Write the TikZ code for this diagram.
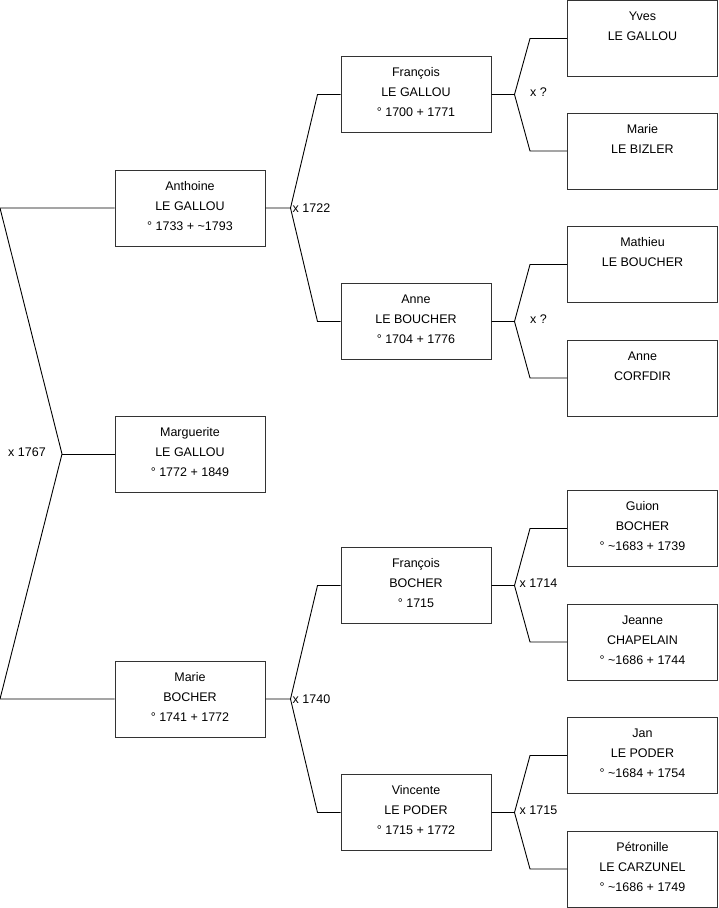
\documentclass[tikz,border=0pt]{standalone}
\usepackage{fontspec}
\setmainfont{Liberation Sans}
\usetikzlibrary{positioning, calc}

\newcommand{\pers}[3]{\strut#1\\\strut#2\\\strut\rule[-10pt]{0pt}{10pt}#3}

\begin{document}
\begin{tikzpicture}[x=1pt, y=-1pt,
  per/.style={rectangle, draw=black!80, line width=1pt,
    minimum width=150pt, minimum height=76pt, inner sep=0pt,
    align=center, font=\fontsize{12.5}{20}\selectfont},
  mar/.style={font=\fontsize{12.5}{14}\selectfont, inner sep=0pt},
  lnk/.style={draw=black, line width=0.9pt}
]
\useasboundingbox (0,0) rectangle (719,908);

%% ── Generation 1 ─────────────────────────────────────────────────────
\node[per] (anth) at (190, 208) {\pers{Anthoine}{LE GALLOU}{° 1733 + \textasciitilde1793}};
\node[per] (marg) at (190, 454) {\pers{Marguerite}{LE GALLOU}{° 1772 + 1849}};
\node[per] (mari) at (190, 699) {\pers{Marie}{BOCHER}{° 1741 + 1772}};

%% ── Generation 2 ─────────────────────────────────────────────────────
\node[per] (fglo) at (416, 94.5)  {\pers{François}{LE GALLOU}{° 1700 + 1771}};
\node[per] (abou) at (416, 321.5) {\pers{Anne}{LE BOUCHER}{° 1704 + 1776}};
\node[per] (fboc) at (416, 585.5) {\pers{François}{BOCHER}{° 1715}};
\node[per] (vpod) at (416, 812.5) {\pers{Vincente}{LE PODER}{° 1715 + 1772}};

%% ── Generation 3 ─────────────────────────────────────────────────────
\node[per] (yglo) at (642.5, 38.5)  {\pers{Yves}{LE GALLOU}{}};
\node[per] (mbiz) at (642.5, 151)   {\pers{Marie}{LE BIZLER}{}};
\node[per] (mbou) at (642.5, 264.5) {\pers{Mathieu}{LE BOUCHER}{}};
\node[per] (acor) at (642.5, 378)   {\pers{Anne}{CORFDIR}{}};
\node[per] (gboc) at (642.5, 528.5) {\pers{Guion}{BOCHER}{° \textasciitilde1683 + 1739}};
\node[per] (jcha) at (642.5, 642)   {\pers{Jeanne}{CHAPELAIN}{° \textasciitilde1686 + 1744}};
\node[per] (jpod) at (642.5, 755.5) {\pers{Jan}{LE PODER}{° \textasciitilde1684 + 1754}};
\node[per] (pcar) at (642.5, 869)   {\pers{Pétronille}{LE CARZUNEL}{° \textasciitilde1686 + 1749}};

%% ── Forks ────────────────────────────────────────────────────────────
\coordinate (lft)  at (0, 454);
\coordinate (root) at (62, 454);
\coordinate (fa)   at ([xshift=25pt]anth.east);
\coordinate (fm)   at ([xshift=25pt]mari.east);
\coordinate (fb)   at ([xshift=23pt]fglo.east);
\coordinate (fc)   at ([xshift=23pt]abou.east);
\coordinate (fd)   at ([xshift=23pt]fboc.east);
\coordinate (fe)   at ([xshift=23pt]vpod.east);

\draw[lnk] (anth.west) -- (anth.west -| lft) -- (root) -- (mari.west -| lft) -- (mari.west);
\draw[lnk] (root) -- (marg.west);

\draw[lnk] (anth.east) -- (fa) -- ([xshift=-23pt]fglo.west) -- (fglo.west);
\draw[lnk] (fa) -- ([xshift=-23pt]abou.west) -- (abou.west);
\draw[lnk] (mari.east) -- (fm) -- ([xshift=-23pt]fboc.west) -- (fboc.west);
\draw[lnk] (fm) -- ([xshift=-23pt]vpod.west) -- (vpod.west);

\draw[lnk] (fglo.east) -- (fb) -- ([xshift=-37pt]yglo.west) -- (yglo.west);
\draw[lnk] (fb) -- ([xshift=-37pt]mbiz.west) -- (mbiz.west);
\draw[lnk] (abou.east) -- (fc) -- ([xshift=-37pt]mbou.west) -- (mbou.west);
\draw[lnk] (fc) -- ([xshift=-37pt]acor.west) -- (acor.west);
\draw[lnk] (fboc.east) -- (fd) -- ([xshift=-37pt]gboc.west) -- (gboc.west);
\draw[lnk] (fd) -- ([xshift=-37pt]jcha.west) -- (jcha.west);
\draw[lnk] (vpod.east) -- (fe) -- ([xshift=-37pt]jpod.west) -- (jpod.west);
\draw[lnk] (fe) -- ([xshift=-37pt]pcar.west) -- (pcar.west);

%% ── Marriages ────────────────────────────────────────────────────────
\node[mar] (x1767) at ([xshift=-35pt, yshift=2pt]root) {x 1767};
\node[mar, anchor=west] (x1722) at ([xshift=2pt]fa) {x 1722};
\node[mar, anchor=west] (x1740) at ([xshift=2pt]fm) {x 1740};
\node[mar] (xq1)   at ([xshift=24pt, yshift=2pt]fb) {x ?};
\node[mar] (xq2)   at ([xshift=24pt, yshift=2pt]fc) {x ?};
\node[mar] (x1714) at ([xshift=24pt, yshift=2pt]fd) {x 1714};
\node[mar] (x1715) at ([xshift=24pt, yshift=2pt]fe) {x 1715};

\end{tikzpicture}
\end{document}
